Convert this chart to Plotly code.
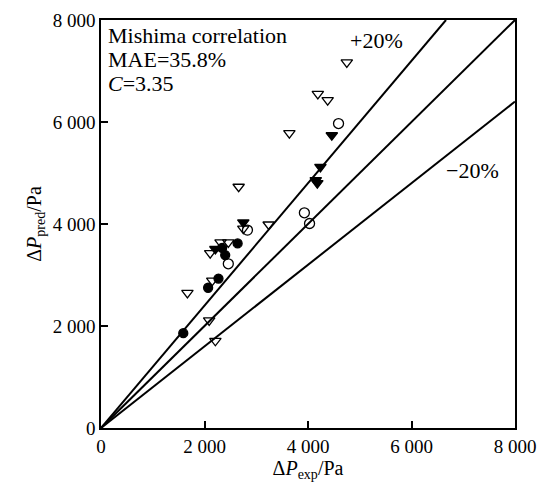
import plotly.graph_objects as go

# Measured vs predicted pressure drop (Pa), grouped by marker style
filled_circle_x = [1590, 2070, 2270, 2400, 2340, 2640]
filled_circle_y = [1860, 2750, 2930, 3390, 3530, 3620]

open_circle_x = [2460, 2830, 3930, 4030, 4590]
open_circle_y = [3220, 3880, 4220, 4010, 5970]

filled_tri_x = [2210, 2750, 4180, 4150, 4240, 4460]
filled_tri_y = [3510, 4030, 4800, 4860, 5120, 5740]

open_tri_x = [2210, 2090, 1670, 2150, 2110, 2310, 2460, 2750, 3240, 2660, 3640, 4190, 4380, 4750]
open_tri_y = [1710, 2110, 2650, 2890, 3430, 3640, 3640, 3910, 3990, 4730, 5780, 6550, 6430, 7170]

# Reference lines: perfect agreement and +/-20 %
line_slopes = [1.2, 1.0, 0.8]

tick_vals = [0, 2000, 4000, 6000, 8000]
tick_text = ["0", "2 000", "4 000", "6 000", "8 000"]

axis_max = 8000

fig = go.Figure()

for k in line_slopes:
    x_end = min(axis_max, axis_max / k)
    fig.add_trace(go.Scatter(x=[0, x_end], y=[0, k * x_end], mode="lines",
                             line=dict(color="black", width=2), hoverinfo="skip"))

marker_line = dict(color="black", width=1.3)
fig.add_trace(go.Scatter(x=filled_circle_x, y=filled_circle_y, mode="markers",
                         marker=dict(symbol="circle", size=9, color="black", line=marker_line)))
fig.add_trace(go.Scatter(x=open_circle_x, y=open_circle_y, mode="markers",
                         marker=dict(symbol="circle-open", size=10, color="black", line=marker_line)))
fig.add_trace(go.Scatter(x=filled_tri_x, y=filled_tri_y, mode="markers",
                         marker=dict(symbol="triangle-down", size=10, color="black", line=marker_line)))
fig.add_trace(go.Scatter(x=open_tri_x, y=open_tri_y, mode="markers",
                         marker=dict(symbol="triangle-down-open", size=10, color="black", line=marker_line)))

serif = "Liberation Serif, Times New Roman, serif"
ann_font = dict(family=serif, size=22, color="black")

for text, yv in [("Mishima correlation", 7700), ("MAE=35.8%", 7230), ("<i>C</i>=3.35", 6760)]:
    fig.add_annotation(x=100, y=yv, text=text, showarrow=False, xanchor="left",
                       yanchor="middle", font=ann_font)
fig.add_annotation(x=5320, y=7600, text="+20%", showarrow=False, font=ann_font)
fig.add_annotation(x=7170, y=5040, text="\u221220%", showarrow=False, font=ann_font)

axis_common = dict(range=[0, axis_max], tickvals=tick_vals, ticktext=tick_text,
                   showgrid=False, zeroline=False, showline=True, linecolor="black",
                   linewidth=1.5, mirror=True, ticks="inside", ticklen=7,
                   tickcolor="black", tickwidth=1.5,
                   tickfont=dict(family=serif, size=19, color="black"))

fig.update_xaxes(**axis_common,
                 title=dict(text="\u0394<i>P</i><sub>exp</sub>/Pa",
                            font=dict(family=serif, size=20, color="black"), standoff=4))
fig.update_yaxes(**axis_common,
                 title=dict(text="\u0394<i>P</i><sub>pred</sub>/Pa",
                            font=dict(family=serif, size=20, color="black"), standoff=6))

fig.update_layout(width=555, height=491, showlegend=False,
                  plot_bgcolor="white", paper_bgcolor="white",
                  margin=dict(l=101, r=40, t=10, b=63))

fig.write_html("out.html")
